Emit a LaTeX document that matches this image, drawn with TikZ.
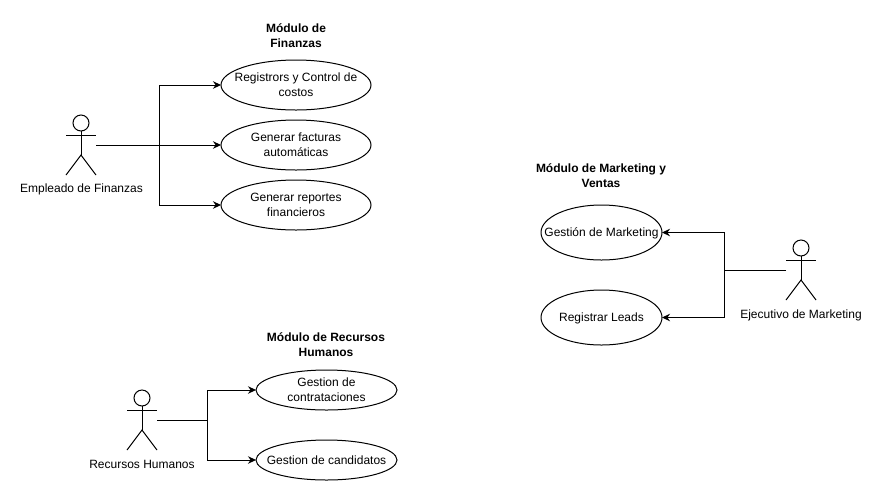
\documentclass[tikz,border=0pt]{standalone}
\usepackage{fontspec}
\setmainfont{Liberation Sans}
\usetikzlibrary{shapes.geometric, arrows.meta}

\tikzset{
    usecase/.style={draw, ellipse, inner sep=-20pt, outer sep=0pt, align=center, text depth=0pt},
    actorbox/.style={minimum width=22.5pt, minimum height=45pt, inner sep=0pt, outer sep=0pt},
    actorname/.style={inner sep=0pt},
    moduletitle/.style={font=\fontsize{9}{11.25}\selectfont\bfseries, align=center, inner sep=0pt},
    conn/.style={->},
}

\begin{document}
\begin{tikzpicture}[x=0.75pt, y=-0.75pt, >={Stealth[length=6pt, width=5.6pt]}, line width=0.75pt,
    font=\fontsize{9}{11.25}\selectfont]

\useasboundingbox (0,0) rectangle (882,501);

% Module titles
\node[moduletitle] (titleFin) at (296,35.5) {Módulo de\\Finanzas};
\node[moduletitle] (titleMkt) at (601,175.5) {Módulo de Marketing y\\Ventas};
\node[moduletitle] (titleRh) at (326,345) {Módulo de Recursos\\Humanos};

% Use cases: finanzas
\node[usecase, minimum width=112.5pt, minimum height=37.5pt] (regCostos) at (296,85) {Registrors y Control de\\costos};
\node[usecase, minimum width=112.5pt, minimum height=37.5pt] (facturas) at (296,145) {Generar facturas\\automáticas};
\node[usecase, minimum width=112.5pt, minimum height=37.5pt] (reportes) at (296,205) {Generar reportes\\financieros};

% Use cases: marketing
\node[usecase, minimum width=90.75pt, minimum height=41.25pt] (gestMkt) at (601.5,232.5) {Gestión de Marketing};
\node[usecase, minimum width=90.75pt, minimum height=41.25pt] (leads) at (601.5,317.5) {Registrar Leads};

% Use cases: recursos humanos
\node[usecase, minimum width=105.75pt, minimum height=30pt] (contrat) at (326.5,390) {Gestion de\\contrataciones};
\node[usecase, minimum width=105.75pt, minimum height=30pt] (candid) at (326.5,460) {Gestion de candidatos};

% Actors
\node[actorbox] (empFin) at (81,145) {};
\node[actorbox] (ejecMkt) at (801,270) {};
\node[actorbox] (empRh) at (142,420) {};

\foreach \who in {empFin,ejecMkt,empRh} {
    \begin{scope}[shift={(\who.center)}]
        \draw (0,-22) circle (6pt);
        \draw (0,-14) -- (0,10);
        \draw (-15,-10) -- (15,-10);
        \draw (-15,30) -- (0,10) -- (15,30);
    \end{scope}
}

\node[actorname] (nameFin) at (81.5,189) {Empleado de Finanzas};
\node[actorname] (nameMkt) at (801,315) {Ejecutivo de Marketing};
\node[actorname] (nameRh) at (142,464) {Recursos Humanos};

% Connector corners
\coordinate (joinFin) at (159,145);
\coordinate (joinMkt) at (724,270);
\coordinate (joinRh) at (207,420);

% Connectors
\draw[conn] (empFin.east) -- (facturas.west);
\draw[conn] (joinFin) |- (regCostos.west);
\draw[conn] (joinFin) |- (reportes.west);

\draw (ejecMkt.west) -- (joinMkt);
\draw[conn] (joinMkt) |- (gestMkt.east);
\draw[conn] (joinMkt) |- (leads.east);

\draw (empRh.east) -- (joinRh);
\draw[conn] (joinRh) |- (contrat.west);
\draw[conn] (joinRh) |- (candid.west);

\end{tikzpicture}
\end{document}
